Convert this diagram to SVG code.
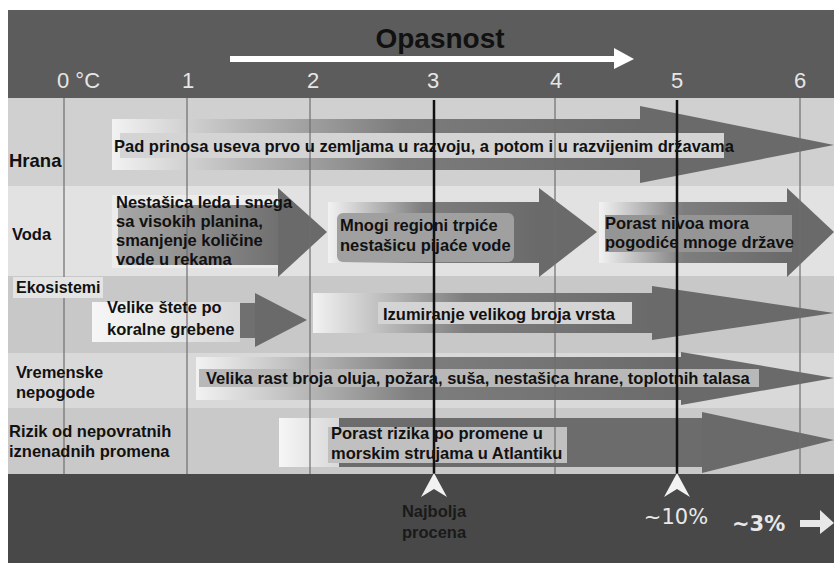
<svg xmlns="http://www.w3.org/2000/svg" width="834" height="565" viewBox="0 0 834 565">
<defs>
<linearGradient id="gShaft" x1="0" y1="0" x2="1" y2="0">
<stop offset="0" stop-color="#f2f2f2"/>
<stop offset="0.25" stop-color="#b8b8b8"/>
<stop offset="0.55" stop-color="#7c7c7c"/>
<stop offset="1" stop-color="#6a6a6a"/>
</linearGradient>
<linearGradient id="gShort" x1="0" y1="0" x2="1" y2="0">
<stop offset="0" stop-color="#f2f2f2"/>
<stop offset="0.45" stop-color="#7e7e7e"/>
<stop offset="1" stop-color="#6a6a6a"/>
</linearGradient>
<linearGradient id="gDark" x1="0" y1="0" x2="1" y2="0">
<stop offset="0" stop-color="#a8a8a8"/>
<stop offset="1" stop-color="#707070"/>
</linearGradient>
<linearGradient id="gWhite" x1="0" y1="0" x2="1" y2="0">
<stop offset="0" stop-color="#f6f6f6"/>
<stop offset="1" stop-color="#d8d8d8"/>
</linearGradient>
</defs>
<style>
.lbl{font-family:"Liberation Sans",Arial,sans-serif;font-weight:bold;font-size:16.5px;fill:#111}
.txt{font-family:"Liberation Sans",Arial,sans-serif;font-weight:bold;font-size:16.5px;fill:#111}
.tick{font-family:"Liberation Sans",Arial,sans-serif;font-size:22px;fill:#e6e6e6}
.head{fill:#6a6a6a}
.thin{stroke:#6e6e6e;stroke-width:1.2}
.thick{stroke:#111;stroke-width:2.5}
.chev{fill:#f2f2f2}
</style>
<rect width="834" height="565" fill="#ffffff"/>
<g id="header">
<rect x="8" y="10" width="826" height="88" fill="#5c5c5c"/>
<text x="440" y="48" text-anchor="middle" style="font-family:'Liberation Sans',Arial,sans-serif;font-weight:bold;font-size:28px;fill:#111">Opasnost</text>
<path d="M230,56 H614 V48 L634,59 L614,69 V62 H230 Z" fill="#ffffff"/>
<text class="tick" x="57" y="88">0 °C</text>
<text class="tick" x="188" y="88" text-anchor="middle">1</text>
<text class="tick" x="313" y="88" text-anchor="middle">2</text>
<text class="tick" x="433" y="88" text-anchor="middle">3</text>
<text class="tick" x="556" y="88" text-anchor="middle">4</text>
<text class="tick" x="677" y="88" text-anchor="middle">5</text>
<text class="tick" x="800" y="88" text-anchor="middle">6</text>
</g>
<g id="rows">
<rect x="8" y="98" width="826" height="88" fill="#d0d0d0"/>
<rect x="8" y="186" width="826" height="90" fill="#e2e2e2"/>
<rect x="8" y="276" width="826" height="77" fill="#c8c8c8"/>
<rect x="8" y="353" width="826" height="55" fill="#d9d9d9"/>
<rect x="8" y="408" width="826" height="66" fill="#c9c9c9"/>
<rect x="8" y="474" width="826" height="89" fill="#484848"/>
</g>
<g id="arrow-hrana">
<rect x="112" y="119" width="528" height="51" fill="url(#gShaft)"/>
<polygon class="head" points="640,106 834,145 640,183"/>
<rect x="120" y="133" width="604" height="25" fill="#d4d4d4"/>
</g>
<g id="arrow-voda-1">
<rect x="112" y="195" width="166" height="73" fill="#ececec"/>
<rect x="118" y="205" width="160" height="60" fill="url(#gDark)"/>
<polygon class="head" points="278,188 327,232 278,277"/>
</g>
<g id="arrow-voda-2">
<rect x="328" y="202" width="211" height="61" fill="url(#gShort)"/>
<polygon class="head" points="539,188 597,232 539,277"/>
<rect x="337" y="213" width="177" height="49" rx="6" fill="#a0a0a0"/>
</g>
<g id="arrow-voda-3">
<rect x="599" y="202" width="188" height="61" fill="url(#gShort)"/>
<polygon class="head" points="787,188 834,232 787,277"/>
<rect x="605" y="215" width="187" height="37" fill="#959595"/>
</g>
<g id="arrow-eko-1">
<rect x="150" y="303" width="105" height="35" fill="#707070"/>
<polygon class="head" points="255,293 307,320 255,347"/>
<rect x="92" y="302" width="148" height="40" fill="url(#gWhite)"/>
</g>
<g id="arrow-eko-2">
<rect x="313" y="293" width="339" height="40" fill="url(#gShort)"/>
<polygon class="head" points="652,286 834,313 652,340"/>
<rect x="378" y="302" width="254" height="22" fill="#d4d4d4"/>
</g>
<g id="arrow-vreme">
<rect x="196" y="357" width="485" height="43" fill="url(#gShort)"/>
<polygon class="head" points="681,352 834,378 681,405"/>
<rect x="199" y="369" width="560" height="18" fill="#b8b8b8"/>
</g>
<g id="arrow-rizik">
<rect x="330" y="418" width="372" height="49" fill="#6c6c6c"/>
<rect x="279" y="418" width="60" height="49" fill="url(#gWhite)"/>
<polygon class="head" points="702,412 834,440 702,473"/>
<rect x="328" y="427" width="239" height="36" fill="#c0c0c0"/>
</g>
<g id="grid">
<line class="thin" x1="64" y1="98" x2="64" y2="474"/>
<line class="thin" x1="187" y1="98" x2="187" y2="474"/>
<line class="thin" x1="310" y1="98" x2="310" y2="474"/>
<line class="thin" x1="555" y1="98" x2="555" y2="474"/>
<line class="thin" x1="800" y1="98" x2="800" y2="474"/>
<line class="thick" x1="434" y1="100" x2="434" y2="474"/>
<line class="thick" x1="677" y1="100" x2="677" y2="474"/>
</g>
<g id="label-hrana"><text class="lbl" x="9" y="167" style="font-size:18.5px">Hrana</text></g>
<g id="label-voda"><text class="lbl" x="12" y="240">Voda</text></g>
<g id="label-eko"><rect x="13" y="277" width="90" height="21" fill="#e4e4e4"/><text class="lbl" x="16" y="293" style="font-size:16px">Ekosistemi</text></g>
<g id="label-vreme"><text class="lbl" x="16" y="378">Vremenske</text><text class="lbl" x="16" y="398">nepogode</text></g>
<g id="label-rizik"><text class="lbl" x="9" y="437">Rizik od nepovratnih</text><text class="lbl" x="9" y="457">iznenadnih promena</text></g>
<g id="texts">
<text class="txt" x="114" y="152">Pad prinosa useva prvo u zemljama u razvoju, a potom i u razvijenim državama</text>
<text class="txt" x="116" y="208">Nestašica leda i snega</text>
<text class="txt" x="116" y="227">sa visokih planina,</text>
<text class="txt" x="116" y="246">smanjenje količine</text>
<text class="txt" x="116" y="265">vode u rekama</text>
<text class="txt" x="340" y="231">Mnogi regioni trpiće</text>
<text class="txt" x="340" y="251">nestašicu pijaće vode</text>
<text class="txt" x="605" y="229">Porast nivoa mora</text>
<text class="txt" x="605" y="248">pogodiće mnoge države</text>
<text class="txt" x="107" y="313">Velike štete po</text>
<text class="txt" x="107" y="335">koralne grebene</text>
<text class="txt" x="383" y="320">Izumiranje velikog broja vrsta</text>
<text class="txt" x="206" y="384">Velika rast broja oluja, požara, suša, nestašica hrane, toplotnih talasa</text>
<text class="txt" x="331" y="439">Porast rizika po promene u</text>
<text class="txt" x="331" y="459">morskim strujama u Atlantiku</text>
</g>
<g id="markers">
<path class="chev" d="M434,473 L447,497 L434,489 L421,497 Z"/>
<path class="chev" d="M677,473 L690,497 L677,489 L664,497 Z"/>
<text class="txt" x="434" y="517" text-anchor="middle" style="fill:#1a1a1a">Najbolja</text>
<text class="txt" x="434" y="538" text-anchor="middle" style="fill:#1a1a1a">procena</text>
<text x="676" y="524" text-anchor="middle" style="font-family:'DejaVu Sans',sans-serif;font-size:21px;fill:#e8e8e8">~10%</text>
<text x="732" y="531" style="font-family:'DejaVu Sans',sans-serif;font-weight:bold;font-size:21px;fill:#e8e8e8">~3%</text>
<path d="M800,520 H820 V510 L834,523 L820,534 V527 H800 Z" fill="#e8e8e8"/>
</g>
</svg>
